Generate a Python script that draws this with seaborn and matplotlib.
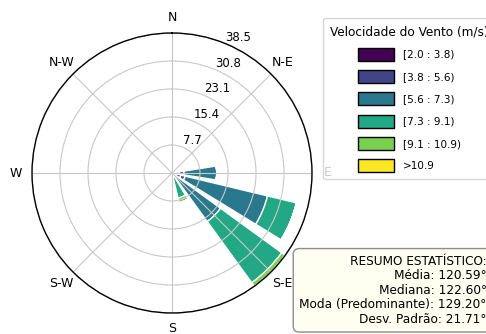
import numpy as np
import matplotlib
matplotlib.use("Agg")
import matplotlib.pyplot as plt
import matplotlib.patches as mpatches
import seaborn as sns

# 16 direction sectors (degrees, clockwise from north)
directions = [0.0, 22.5, 45.0, 67.5, 90.0, 112.5, 135.0, 157.5,
              180.0, 202.5, 225.0, 247.5, 270.0, 292.5, 315.0, 337.5]

speed_labels = ["[2.0 : 3.8)", "[3.8 : 5.6)", "[5.6 : 7.3)",
                "[7.3 : 9.1)", "[9.1 : 10.9)", ">10.9"]

# frequency (%) of each speed class per direction sector
freq_2_0 = [0, 0, 0, 0, 2.0, 2.5, 0.5, 0, 0, 0, 0, 0, 0, 0, 0, 0]
freq_3_8 = [0, 0, 0, 0, 1.3, 1.2, 0.5, 0, 0, 0, 0, 0, 0, 0, 0, 0]
freq_5_6 = [0, 0, 0, 0, 9.0, 23.3, 15.5, 0, 0, 0, 0, 0, 0, 0, 0, 0]
freq_7_3 = [0, 0, 0, 0, 0, 8.2, 20.8, 7.1, 0, 0, 0, 0, 0, 0, 0, 0]
freq_9_1 = [0, 0, 0, 0, 0, 0, 1.2, 1.3, 0, 0, 0, 0, 0, 0, 0, 0]
freq_10_9 = [0, 0, 0, 0, 0, 0, 0, 0, 0, 0, 0, 0, 0, 0, 0, 0]

compass_labels = ["N", "N-E", "E", "S-E", "S", "S-W", "W", "N-W"]

stats_title = "RESUMO ESTATÍSTICO:"
stat_mean = 120.59
stat_median = 122.60
stat_mode = 129.20
stat_std = 21.71

table = np.array([freq_2_0, freq_3_8, freq_5_6, freq_7_3, freq_9_1, freq_10_9])
colors = sns.color_palette(plt.get_cmap("viridis")(np.linspace(0, 1, len(speed_labels))))

W, H = 486, 334
fig = plt.figure(figsize=(W / 100, H / 100), dpi=100)
ax = fig.add_axes([32 / W, 1 - 313 / H, 280 / W, 280 / H], projection="polar")
ax.set_theta_zero_location("N")
ax.set_theta_direction(-1)

theta = np.radians(directions)
width = np.radians(22.5) * 0.8
bottom = np.zeros(len(directions))
for row, color in zip(table, colors):
    ax.bar(theta, row, width=width, bottom=bottom, color=color,
           edgecolor="white", linewidth=1.0, align="center")
    bottom = bottom + row

rmax = table.sum(axis=0).max()
ax.set_ylim(0, rmax)
radii = np.linspace(0, rmax, 6)[1:]
ax.set_rgrids(radii, labels=["%.1f" % r for r in radii], angle=22.5, fontsize=8.5)
ax.set_thetagrids(np.arange(0, 360, 45), labels=compass_labels, fontsize=9)
ax.tick_params(axis="x", pad=1.0)
ax.grid(True, color="#c8c8c8", linewidth=0.8)
ax.spines["polar"].set_linewidth(1.0)

handles = [mpatches.Patch(facecolor=c, edgecolor="black", linewidth=1.0) for c in colors]
fig.legend(handles, speed_labels, title="Velocidade do Vento (m/s)",
           loc="upper left", bbox_to_anchor=(323 / W, 1 - 18 / H), borderaxespad=0,
           fontsize=7.5, title_fontsize=8.7, handlelength=3.45, handleheight=1.55,
           labelspacing=0.89, borderpad=0.7, handletextpad=0.8)

stats_text = (f"{stats_title}\n"
              f"Média: {stat_mean:.2f}°\n"
              f"Mediana: {stat_median:.2f}°\n"
              f"Moda (Predominante): {stat_mode:.2f}°\n"
              f"Desv. Padrão: {stat_std:.2f}°")
fig.text(486.5 / W, (H - 326) / H, stats_text, ha="right", va="bottom",
         multialignment="right", fontsize=8.7, linespacing=1.16,
         bbox=dict(boxstyle="round,pad=0.5", facecolor="ivory",
                   edgecolor="gray", alpha=0.9))

fig.savefig("out.png", dpi=100)
